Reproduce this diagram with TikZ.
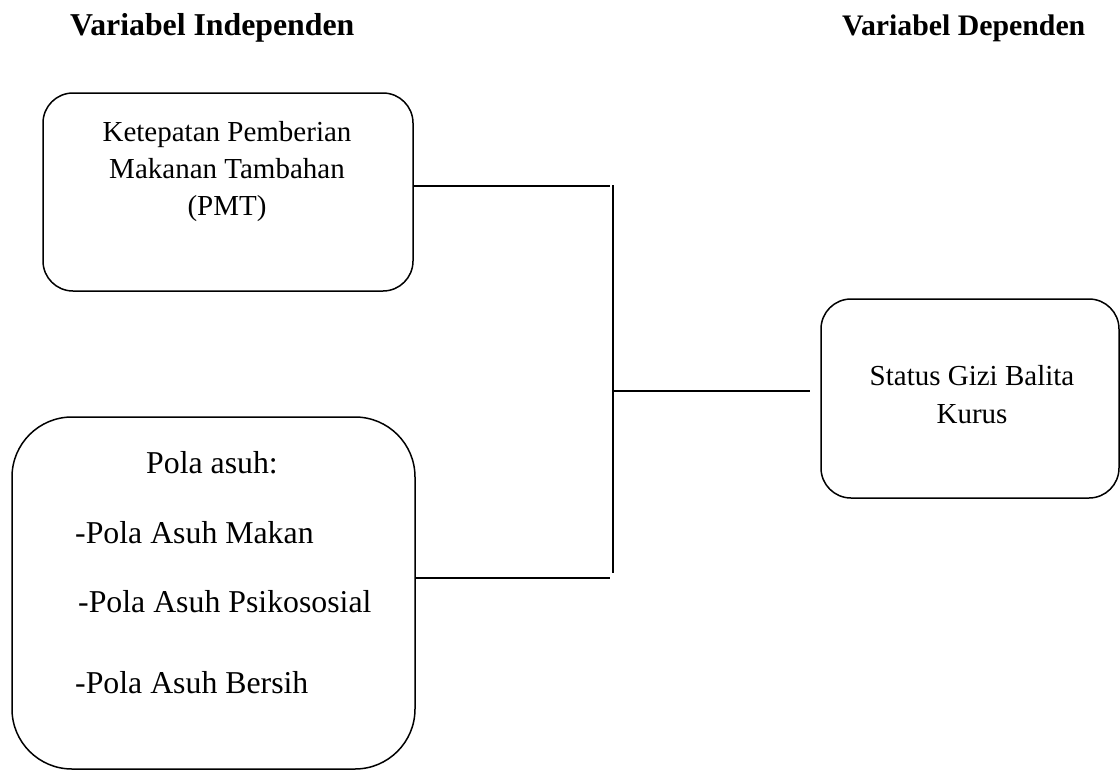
\documentclass[tikz,border=0pt]{standalone}
\usepackage{fontspec}
\setmainfont{Liberation Serif}
\begin{document}
\begin{tikzpicture}[x=1pt,y=-1pt,
  box/.style={draw, line width=1.5pt, rounded corners=#1, inner sep=0pt},
  conn/.style={line width=1.5pt},
  txt/.style={inner sep=0pt, font=\fontsize{29}{37}\selectfont},
  big/.style={inner sep=0pt, font=\fontsize{31.8}{40}\selectfont},
  ttl/.style={inner sep=0pt, font=\fontsize{#1}{36}\selectfont\bfseries}]
\useasboundingbox (0,0) rectangle (1120,771);
% titles
\node[ttl=31.8, anchor=base west] (t1) at (70,35) {Variabel Independen};
\node[ttl=29.8, anchor=base west] (t2) at (842,35) {Variabel Dependen};
% boxes
\node[box=30pt, minimum width=370pt, minimum height=198pt] (b1) at (228,192) {};
\node[box=60pt, minimum width=403pt, minimum height=352pt] (b2) at (213.5,593) {};
\node[box=30pt, minimum width=298pt, minimum height=199pt] (b3) at (970,398.5) {};
% texts box 1
\node[txt, anchor=base] (k1) at (227,141) {Ketepatan Pemberian};
\node[txt, anchor=base] (k2) at (227,178) {Makanan Tambahan};
\node[txt, anchor=base] (k3) at (227,215) {(PMT)};
% texts box 2
\node[big, anchor=base] (p0) at (212,473) {Pola asuh:};
\node[big, anchor=base west] (p1) at (75,543) {-Pola Asuh Makan};
\node[big, anchor=base west] (p2) at (78,612) {-Pola Asuh Psikososial};
\node[big, anchor=base west] (p3) at (75,693) {-Pola Asuh Bersih};
% texts box 3
\node[txt, anchor=base] (s1) at (972,385) {Status Gizi Balita};
\node[txt, anchor=base] (s2) at (972,423) {Kurus};
% connectors
\coordinate (j1) at (610,186);
\coordinate (j2) at (610,578);
\coordinate (v1) at (613,185);
\coordinate (v2) at (613,573);
\coordinate (m1) at (613,391);
\coordinate (m2) at (810,391);
\draw[conn] (b1.east |- j1) -- (j1);
\draw[conn] (b2.east |- j2) -- (j2);
\draw[conn] (v1) -- (v2);
\draw[conn] (m1) -- (m2);
\end{tikzpicture}
\end{document}
